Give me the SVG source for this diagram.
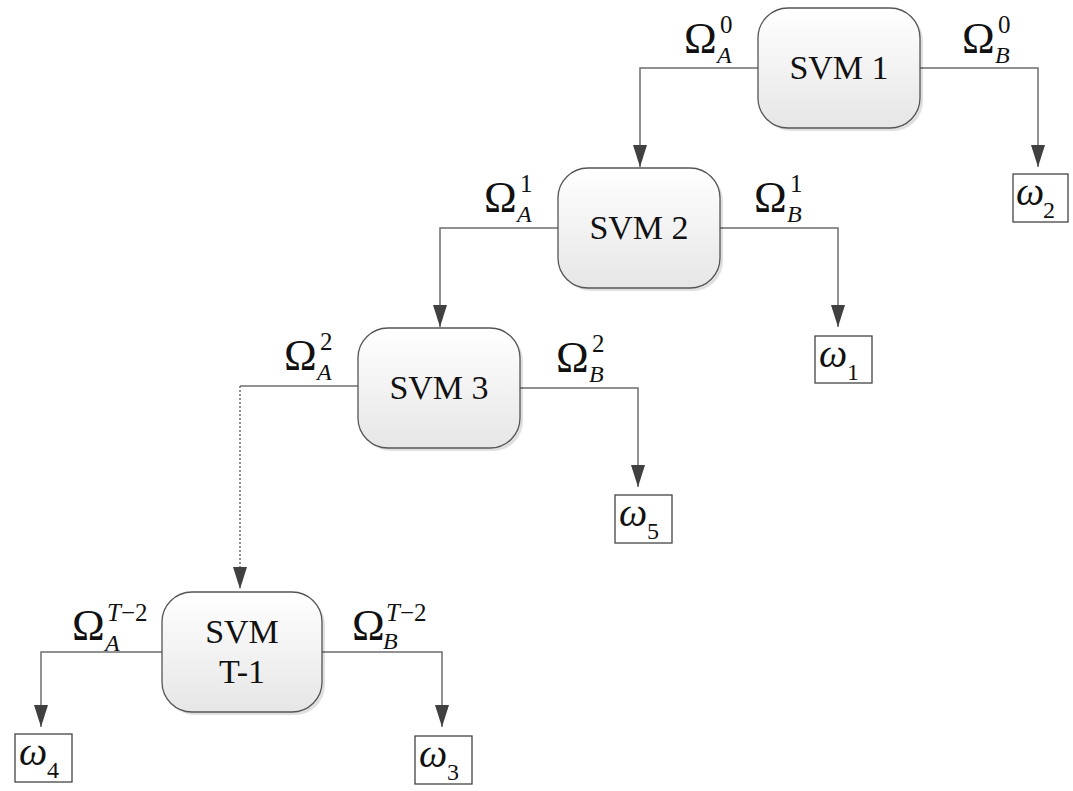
<svg xmlns="http://www.w3.org/2000/svg" width="1073" height="791" viewBox="0 0 1073 791">
<defs>
<linearGradient id="g" x1="0" y1="0" x2="0" y2="1">
<stop offset="0" stop-color="#ffffff"/>
<stop offset="1" stop-color="#e6e6e6"/>
</linearGradient>
<marker id="ah" markerUnits="userSpaceOnUse" markerWidth="22" markerHeight="14" refX="22" refY="7" orient="auto" viewBox="0 0 22 14">
<path d="M0,0 L22,7 L0,14 Z" fill="#404040"/>
</marker>
<style>
.box{fill:url(#g);stroke:#555;stroke-width:1.3}
.sh{fill:#000;opacity:0.12}
.leaf{fill:#fff;stroke:#444;stroke-width:1.3}
.ln{fill:none;stroke:#6e6e6e;stroke-width:1.5}
.dot{fill:none;stroke:#6e6e6e;stroke-width:1.5;stroke-dasharray:2,2}
.t{font-family:"Liberation Serif","Times New Roman",serif;fill:#111}
.big{font-size:34px}
.om{font-size:44px}
.sup{font-size:25px}
.sub{font-size:24px;font-style:italic}
.w{font-size:40px;font-style:italic}
.wd{font-size:24px}
</style>
</defs>
<rect width="1073" height="791" fill="#fff"/>
<g id="connectors">
<path class="ln" d="M758,68 H640 V167" marker-end="url(#ah)"/>
<path class="ln" d="M920,68 H1038 V167" marker-end="url(#ah)"/>
<path class="ln" d="M558,228 H440 V327" marker-end="url(#ah)"/>
<path class="ln" d="M720,228 H838 V327" marker-end="url(#ah)"/>
<path class="ln" d="M358,386 H240"/>
<path class="dot" d="M240,386 V589" marker-end="url(#ah)"/>
<path class="ln" d="M520,388 H638 V487" marker-end="url(#ah)"/>
<path class="ln" d="M162,652 H41 V727" marker-end="url(#ah)"/>
<path class="ln" d="M322,652 H442 V727" marker-end="url(#ah)"/>
</g>
<g id="svm1">
<rect class="sh" x="761" y="11" width="162" height="120" rx="30"/>
<rect class="box" x="758" y="8" width="162" height="120" rx="30"/>
<text class="t big" x="839" y="79" text-anchor="middle">SVM 1</text>
</g>
<g id="svm2">
<rect class="sh" x="561" y="171" width="162" height="120" rx="30"/>
<rect class="box" x="558" y="168" width="162" height="120" rx="30"/>
<text class="t big" x="639" y="239" text-anchor="middle">SVM 2</text>
</g>
<g id="svm3">
<rect class="sh" x="361" y="331" width="162" height="120" rx="30"/>
<rect class="box" x="358" y="328" width="162" height="120" rx="30"/>
<text class="t big" x="439" y="399" text-anchor="middle">SVM 3</text>
</g>
<g id="svmT1">
<rect class="sh" x="165" y="595" width="160" height="120" rx="30"/>
<rect class="box" x="162" y="592" width="160" height="120" rx="30"/>
<text class="t big" x="242" y="643" text-anchor="middle">SVM</text>
<text class="t big" x="242" y="683" text-anchor="middle">T-1</text>
</g>
<g id="labels">
<text class="t om" x="684" y="53">Ω</text><text class="t sup" x="720" y="33">0</text><text class="t sub" x="717" y="63">A</text>
<text class="t om" x="962" y="53">Ω</text><text class="t sup" x="998" y="33">0</text><text class="t sub" x="995" y="63">B</text>
<text class="t om" x="484" y="212">Ω</text><text class="t sup" x="520" y="192">1</text><text class="t sub" x="517" y="222">A</text>
<text class="t om" x="754" y="212">Ω</text><text class="t sup" x="790" y="192">1</text><text class="t sub" x="787" y="222">B</text>
<text class="t om" x="284" y="370">Ω</text><text class="t sup" x="320" y="350">2</text><text class="t sub" x="317" y="380">A</text>
<text class="t om" x="556" y="372">Ω</text><text class="t sup" x="592" y="352">2</text><text class="t sub" x="589" y="382">B</text>
<text class="t om" x="72" y="640">Ω</text><text class="t sup" x="107" y="621"><tspan font-style="italic">T</tspan>−2</text><text class="t sub" x="105" y="651">A</text>
<text class="t om" x="352" y="640">Ω</text><text class="t sup" x="386" y="621"><tspan font-style="italic">T</tspan>−2</text><text class="t sub" x="383" y="649">B</text>
</g>
<g id="w2">
<rect class="leaf" x="1013" y="174" width="55" height="48"/>
<text class="t w" x="1016" y="205">ω</text><text class="t wd" x="1043" y="218">2</text>
</g>
<g id="w1">
<rect class="leaf" x="815" y="336" width="57" height="47"/>
<text class="t w" x="819" y="367">ω</text><text class="t wd" x="847" y="380">1</text>
</g>
<g id="w5">
<rect class="leaf" x="615" y="495" width="57" height="48"/>
<text class="t w" x="619" y="526">ω</text><text class="t wd" x="647" y="539">5</text>
</g>
<g id="w4">
<rect class="leaf" x="15" y="734" width="57" height="48"/>
<text class="t w" x="19" y="765">ω</text><text class="t wd" x="47" y="778">4</text>
</g>
<g id="w3">
<rect class="leaf" x="415" y="736" width="57" height="48"/>
<text class="t w" x="419" y="767">ω</text><text class="t wd" x="447" y="780">3</text>
</g>
</svg>
